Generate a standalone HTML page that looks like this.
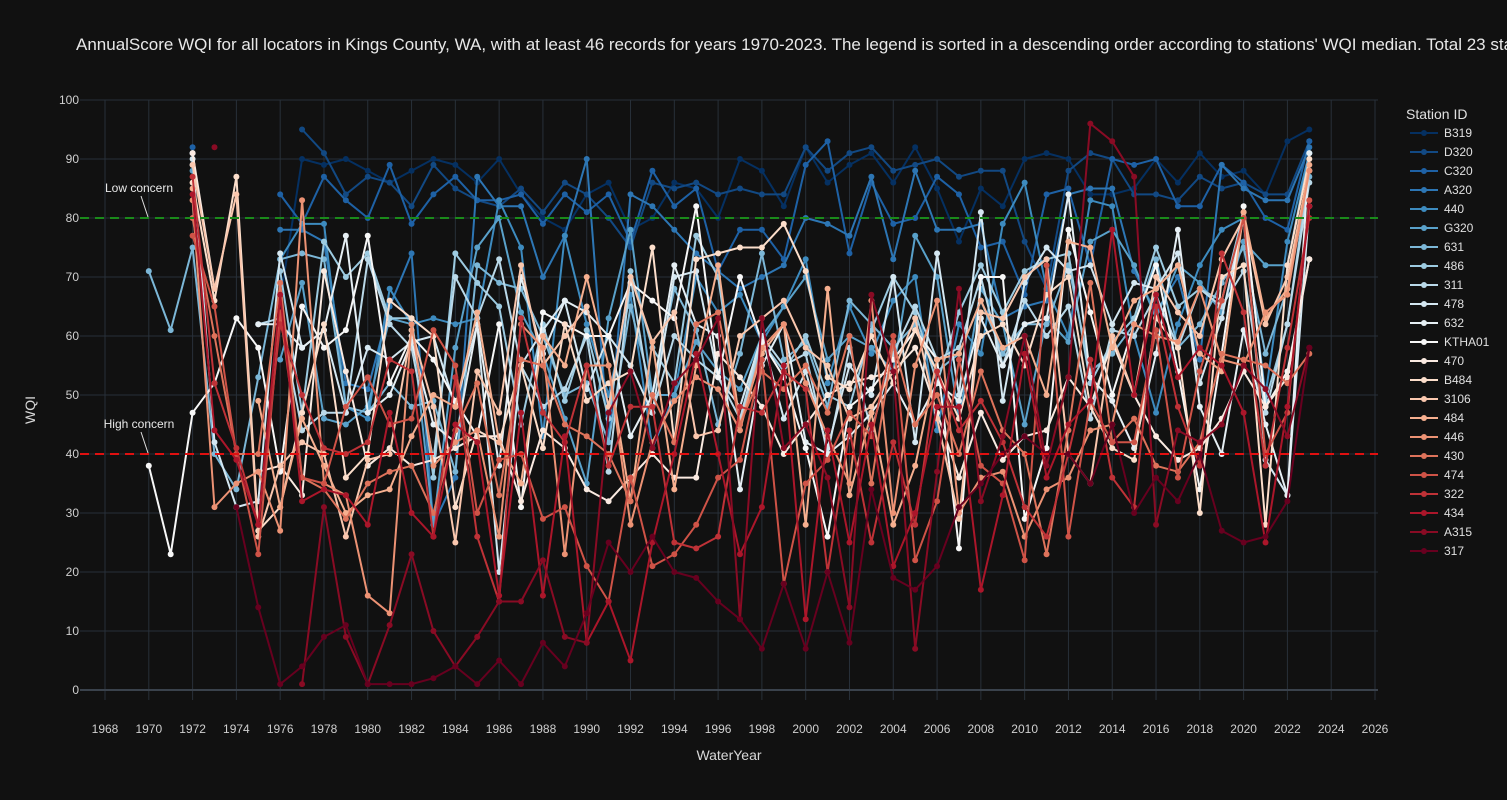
<!DOCTYPE html>
<html><head><meta charset="utf-8">
<style>
html,body{margin:0;padding:0;background:#111111;}
svg{display:block;font-family:"Liberation Sans",sans-serif;}
</style></head>
<body>
<svg id="chart" width="1507" height="800" xmlns="http://www.w3.org/2000/svg">
<rect x="0" y="0" width="1507" height="800" fill="#111111"/>
<text x="76" y="50" fill="#e8e8e8" font-size="17">AnnualScore WQI for all locators in Kings County, WA, with at least 46 records for years 1970-2023. The legend is sorted in a descending order according to stations' WQI median. Total 23 stations.</text>
<g id="grid"></g>
<g id="axes"></g>
<g id="series"></g>
<g id="legend"></g>
</svg>
<script>
const stations = ["B319","D320","C320","A320","440","G320","631","486","311","478","632","KTHA01","470","B484","3106","484","446","430","474","322","434","A315","317"];
const startYears = [1976,1977,1972,1972,1972,1972,1970,1972,1972,1972,1972,1970,1972,1972,1972,1972,1972,1972,1972,1972,1972,1972,1973];
const v_B319 = [66,90,89,90,88,86,88,90,89,86,90,84,80,78,84,86,78,80,86,85,80,90,88,82,92,86,89,91,86,92,85,76,85,82,90,91,90,84,84,85,90,86,91,87,88,84,93,95];
const v_D320 = [95,91,84,87,86,82,89,85,83,82,85,81,86,84,80,75,86,85,86,84,85,84,84,92,88,91,92,88,89,90,87,88,88,76,68,88,91,90,84,84,83,87,85,86,84,84,93];
const v_C320 = [92,null,null,null,84,79,87,83,80,89,79,84,87,83,83,84,79,84,81,84,76,88,82,85,71,78,78,73,89,93,74,86,79,80,87,84,75,76,67,84,85,72,90,89,90,82,82,89,86,80,78,93];
const v_A320 = [91,null,null,null,78,78,76,52,51,65,74,28,36,87,82,82,70,77,90,42,84,82,78,74,71,68,70,72,80,79,77,87,73,88,78,78,79,63,65,66,84,85,85,71,64,70,56,89,85,83,83,92];
const v_440 = [89,null,null,null,73,79,79,48,46,68,62,63,62,63,83,75,43,77,62,50,67,41,50,70,64,67,59,65,73,52,65,57,66,70,44,62,57,79,86,68,60,83,82,60,47,62,72,78,80,50,76,91];
const v_G320 = [88,null,null,null,56,69,46,45,48,63,62,28,58,75,80,64,57,46,35,63,78,50,50,59,54,51,60,65,70,56,60,58,54,77,70,46,68,62,45,63,59,76,78,72,63,72,69,64,76,72,72,91];
const v_631 = [71,61,75,40,34,53,73,74,73,48,47,52,48,49,37,72,69,68,60,50,52,42,65,50,68,61,45,57,74,56,59,48,66,62,58,62,54,57,66,57,62,62,72,54,57,62,73,58,62,69,75,57,68,87];
const v_486 = [89,null,null,null,71,47,76,70,74,63,63,36,74,69,65,45,62,49,61,46,71,58,52,77,70,45,59,54,60,50,48,61,70,64,52,64,72,64,71,73,74,52,59,63,75,65,68,66,81,49,62,88];
const v_311 = [91,null,null,62,63,44,47,47,73,62,58,39,70,63,73,55,48,51,60,37,70,47,60,56,53,46,60,55,57,40,58,44,57,65,56,58,70,55,66,60,65,46,61,60,67,58,68,65,71,47,62,86];
const v_478 = [90,42,31,32,74,58,61,47,58,56,59,60,48,62,20,55,61,66,51,60,55,47,70,71,53,48,60,46,54,41,55,50,70,42,74,50,81,49,69,75,71,72,62,69,68,74,52,63,80,39,33,82];
const v_632 = [null,null,null,62,62,58,61,77,47,50,59,45,42,62,38,70,57,66,64,60,43,50,72,62,60,34,55,62,42,40,43,47,52,45,52,49,63,55,62,63,84,53,49,41,57,78,48,40,61,45,33,91];
const v_KTHA01 = [38,23,47,52,63,58,37,65,58,61,77,52,60,56,49,43,62,31,64,62,60,60,69,66,63,82,53,70,59,53,41,26,48,51,56,61,56,24,70,70,29,41,78,64,50,62,72,54,34,57,82,48,54,73];
const v_470 = [91,68,null,37,38,33,71,54,38,41,38,39,41,43,43,32,44,41,34,32,36,40,36,36,57,53,48,40,45,50,52,53,54,58,47,36,47,39,43,44,53,48,59,50,43,39,41,46,54,48,53,73];
const v_B484 = [86,66,87,27,31,47,62,36,40,66,63,60,31,44,42,55,41,62,49,52,54,75,42,73,74,75,75,79,71,53,51,60,52,61,54,46,60,62,55,67,70,48,41,39,63,58,30,70,72,28,72,90];
const v_3106 = [89,68,84,26,38,42,40,26,39,40,61,48,25,54,47,72,55,60,65,48,70,59,64,43,44,60,63,66,58,55,46,48,54,63,46,29,64,63,70,73,40,35,60,50,70,64,60,73,80,62,70,88];
const v_484 = [85,null,null,49,31,46,38,30,33,34,43,50,48,64,42,35,60,55,70,55,32,59,34,55,72,45,57,62,28,68,33,47,28,38,56,57,66,58,60,50,76,75,58,66,68,72,57,54,81,63,68,89];
const v_446 = [83,31,35,37,27,83,35,33,16,13,62,38,42,44,26,62,58,23,55,55,28,42,49,53,51,44,58,62,52,43,35,66,30,55,66,30,36,37,26,34,36,44,45,62,60,59,68,56,55,64,67,88];
const v_430 = [80,60,40,40,69,36,34,29,35,37,38,30,44,52,33,56,55,45,43,40,32,50,42,62,64,45,54,51,55,47,60,35,59,45,50,40,54,44,40,23,44,69,42,46,38,37,42,57,56,55,52,57];
const v_474 = [77,65,40,23,64,36,35,48,53,45,46,61,55,30,39,40,29,31,21,15,36,21,23,28,36,39,56,18,35,39,47,43,60,22,32,56,38,35,22,72,26,49,42,42,61,36,54,66,80,40,47,83];
const v_322 = [87,52,41,28,62,50,41,40,42,56,54,26,53,26,15,63,47,42,55,38,48,48,25,24,26,48,47,54,51,20,44,25,42,28,54,44,49,42,31,26,40,56,36,31,65,48,38,74,64,38,58,80];
const v_434 = [84,44,39,28,67,32,34,33,28,47,30,26,45,42,16,47,16,43,8,15,5,25,40,57,40,23,31,55,12,44,25,45,21,30,48,48,17,33,57,36,45,49,78,50,67,53,58,55,47,25,48,82];
const v_A315 = [null,92,null,null,null,1,31,9,1,11,23,10,4,9,15,15,22,9,8,47,54,41,52,56,63,12,63,41,45,36,14,67,54,7,37,68,32,43,60,38,53,96,93,87,28,44,42,45,55,51,43,58];
const v_317 = [null,31,14,1,4,9,11,1,1,1,2,4,1,5,1,8,4,13,25,20,26,20,19,15,12,7,18,7,20,8,34,19,17,21,31,35,40,43,40,40,35,45,30,36,32,40,27,25,26,32,58];
const seriesValues = [v_B319,v_D320,v_C320,v_A320,v_440,v_G320,v_631,v_486,v_311,v_478,v_632,v_KTHA01,v_470,v_B484,v_3106,v_484,v_446,v_430,v_474,v_322,v_434,v_A315,v_317];
const yTicks = [0,10,20,30,40,50,60,70,80,90,100];
const xTicks = [1968,1970,1972,1974,1976,1978,1980,1982,1984,1986,1988,1990,1992,1994,1996,1998,2000,2002,2004,2006,2008,2010,2012,2014,2016,2018,2020,2022,2024,2026];

const NS="http://www.w3.org/2000/svg";
const X0=105,X1=1375,Y0=690,Y1=100;
const xs=yr=>X0+(yr-1968)*(X1-X0)/58;
const ys=v=>Y0-v*(Y0-Y1)/100;
function mk(tag,attrs,parent){const e=document.createElementNS(NS,tag);for(const k in attrs)e.setAttribute(k,attrs[k]);parent.appendChild(e);return e;}
const grid=document.getElementById('grid'),axes=document.getElementById('axes'),ser=document.getElementById('series'),leg=document.getElementById('legend');

xTicks.forEach(t=>{
  const l=mk('line',{x1:xs(t),x2:xs(t),y1:100,y2:700,stroke:'#283039','stroke-width':1},grid);
  
  
  const tx=mk('text',{x:xs(t),y:733,fill:'#d0d0d0','font-size':12,'text-anchor':'middle'},axes);
  tx.textContent=t;
  
  
});
yTicks.forEach(t=>{
  const l=mk('line',{x1:80,x2:1378,y1:ys(t),y2:ys(t),stroke:t===0?'#3a424c':'#283039','stroke-width':t===0?2:1},grid);
  
  
  const tx=mk('text',{x:79,y:ys(t)+4,fill:'#d0d0d0','font-size':12,'text-anchor':'end'},axes);
  tx.textContent=t;
  
  
});
const xt=mk('text',{x:729,y:760,fill:'#d8d8d8','font-size':14,'text-anchor':'middle'},axes);xt.textContent='WaterYear';


const yt=mk('text',{x:35,y:410,fill:'#d8d8d8','font-size':14,'text-anchor':'middle',transform:'rotate(-90 35 410)'},axes);yt.textContent='WQI';



const scale=[[5,48,97],[33,102,172],[67,147,195],[146,197,222],[209,229,240],[247,247,247],[253,219,199],[244,165,130],[214,96,77],[178,24,43],[103,0,31]];
function col(i){const t=i/22*10,a=Math.floor(t),b=Math.min(10,a+1),f=t-a;const c=scale[a].map((v,k)=>Math.round(v+(scale[b][k]-v)*f));return `rgb(${c})`;}

stations.forEach((s,i)=>{
  const c=col(i),vals=seriesValues[i],st=startYears[i];
  const g=mk('g',{},ser);
  
  
  let d='',pen=false;
  vals.forEach((v,j)=>{ if(v===null){pen=false;return;} d+=(pen?'L':'M')+xs(st+j).toFixed(1)+','+ys(v).toFixed(1); pen=true;});
  const p=mk('path',{d:d,fill:'none',stroke:c,'stroke-width':2,'stroke-linejoin':'round'},g);
  
  
  vals.forEach((v,j)=>{ if(v===null)return;
    const m=mk('circle',{cx:xs(st+j),cy:ys(v),r:3,fill:c},g);
    
    
  });
  const ly=133+i*19;
  const ll=mk('line',{x1:1410,x2:1438,y1:ly,y2:ly,stroke:c,'stroke-width':2},leg);
  
  
  const lc=mk('circle',{cx:1424,cy:ly,r:3,fill:c},leg);
  
  
  const lt=mk('text',{x:1444,y:ly+4,fill:'#e0e0e0','font-size':12},leg);lt.textContent=s;
  
  
});
const lt0=mk('text',{x:1406,y:119,fill:'#e0e0e0','font-size':14},leg);lt0.textContent='Station ID';



const gl=mk('line',{x1:80,x2:1378,y1:ys(80),y2:ys(80),stroke:'#1a8a1a','stroke-width':2,'stroke-dasharray':'9,6'},ser);


const rl=mk('line',{x1:80,x2:1378,y1:ys(40),y2:ys(40),stroke:'#e01010','stroke-width':2,'stroke-dasharray':'9,6'},ser);


[['Low concern',80,192],['High concern',40,428]].forEach(([t,v,ty])=>{
  const a=mk('line',{x1:141,y1:ty+4,x2:148,y2:ys(v)-1,stroke:'#e0e0e0','stroke-width':1},ser);
  
  
  const tx=mk('text',{x:139,y:ty,fill:'#e8e8e8','font-size':12,'text-anchor':'middle'},ser);tx.textContent=t;
  
  
});
</script>
</body></html>
